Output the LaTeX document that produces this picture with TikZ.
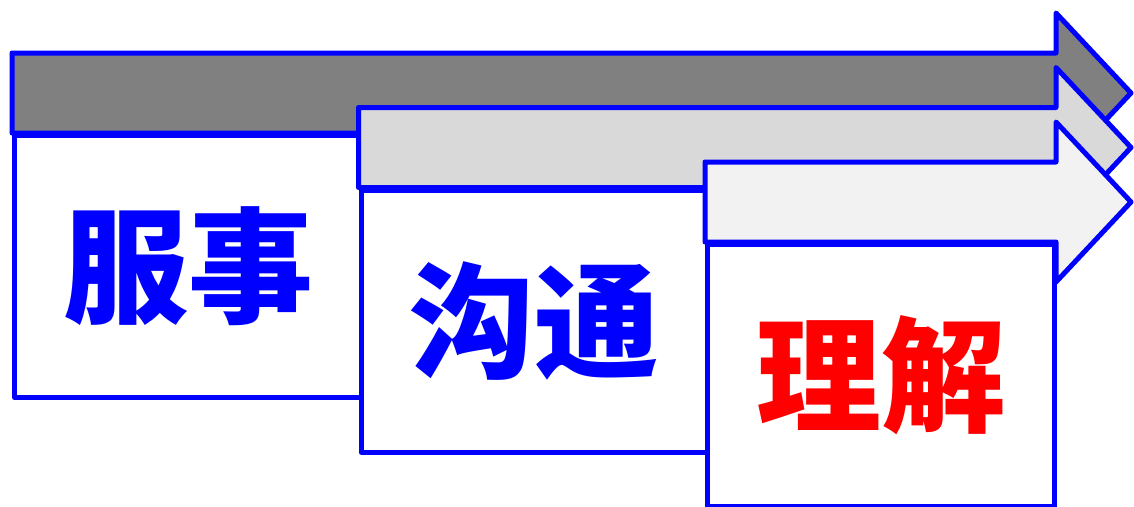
\documentclass[tikz,border=0pt]{standalone}
\usepackage{fontspec}
\newfontfamily\cjk{Noto Sans CJK SC}
\definecolor{band0}{HTML}{808080}
\definecolor{band1}{HTML}{D9D9D9}
\definecolor{band2}{HTML}{F2F2F2}

\begin{document}
\begin{tikzpicture}[x=1pt,y=-1pt,line width=5pt,line join=round,
    band/.style={draw=blue},
    card/.style={draw=blue,fill=white,anchor=north west,inner sep=0pt,minimum width=347pt,minimum height=262pt,font=\cjk\bfseries\fontsize{125}{125}\selectfont}]

    \useasboundingbox (0,0) rectangle (1134,506);

    \foreach \i/\word/\ink in {0/服事/blue,1/沟通/blue,2/理解/red}{
        \pgfmathsetmacro\ax{12+346.5*\i}
        \pgfmathsetmacro\ay{13+54.5*\i}

        % arrow band, then the card hanging under it
        \draw[band,fill=band\i] (\ax,\ay+40) -- (1056,\ay+40) -- (1056,\ay) -- (1131,\ay+80)
            -- (1056,\ay+160) -- (1056,\ay+120) -- (\ax,\ay+120) -- cycle;
        \node[card,text=\ink] (card\i) at (\ax,\ay+120) {\word};
    }

\end{tikzpicture}
\end{document}
